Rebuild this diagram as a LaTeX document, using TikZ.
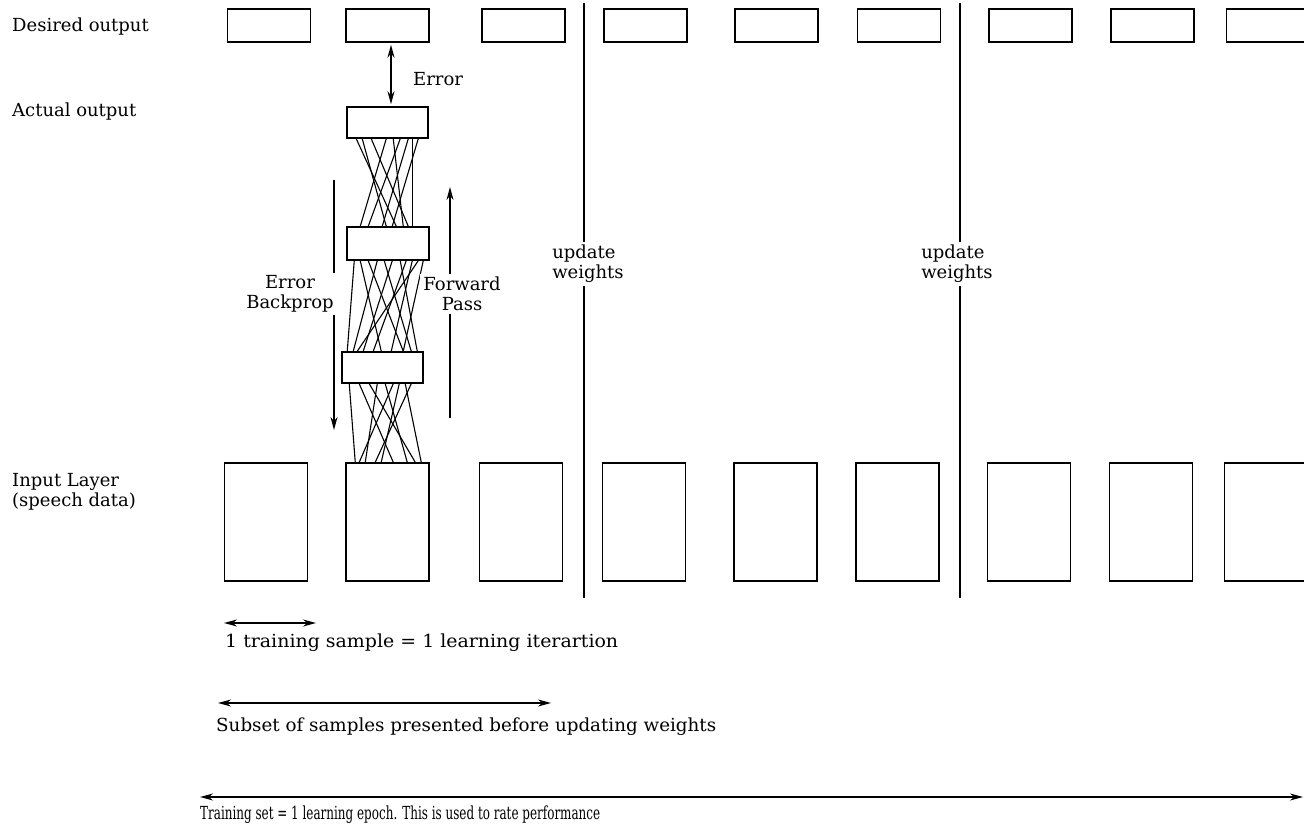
\documentclass[tikz,border=0pt]{standalone}
\usepackage{fontspec}
\usepackage{graphicx}
\setmainfont{DejaVu Serif}
\usetikzlibrary{arrows.meta,calc}
\begin{document}
\begin{tikzpicture}[x=1pt,y=-1pt,
  every node/.style={font=\fontsize{18}{20}\selectfont},
  box/.style={draw, line width=1.5pt, minimum width=83pt, minimum height=33pt, inner sep=0pt},
  inbox/.style={draw, line width=1.5pt, minimum width=83pt, minimum height=118pt, inner sep=0pt},
  lbl/.style={anchor=west, inner sep=0pt, align=left},
  wire/.style={line width=1.1pt},
  sepline/.style={line width=1.6pt},
  arr/.style={line width=1.4pt, -{Stealth[length=13pt,width=7pt]}},
  darr/.style={line width=1.4pt, {Stealth[length=13pt,width=7pt]}-{Stealth[length=13pt,width=7pt]}},
  gap/.style={fill=white, inner sep=3pt, align=center},
]
\useasboundingbox (0,0) rectangle (1304,829);

% desired output boxes
\foreach \n/\x in {1/269,2/387.5,3/523.5,4/645.5,5/776.5,6/899,7/1030.5,8/1152.5,9/1268}
  \node[box] (d\n) at (\x,25.5) {};
% input boxes
\foreach \n/\x in {1/266,2/387.5,3/521,4/644,5/775.5,6/897.5,7/1029,8/1151,9/1266}
  \node[inbox] (i\n) at (\x,522) {};

% network
\node[box, minimum width=81pt, minimum height=31pt] (act) at (387.5,122.5) {};
\node[box, minimum width=82pt, minimum height=33pt] (h2) at (388,243.5) {};
\node[box, minimum width=81pt, minimum height=31pt] (h1) at (382.5,367.5) {};

\foreach \a/\b in {10/50,16/40,25/62,40/14,47/57,54/22,62/36,66/66,72/46}
  \draw[wire] ([xshift=\a pt]act.south west) -- ([xshift=\b pt]h2.north west);
\foreach \a/\b in {8/6,14/40,22/62,31/12,38/70,46/22,54/76,60/32,66/50,72/16,77/62}
  \draw[wire] ([xshift=\a pt]h2.south west) -- ([xshift=\b pt]h1.north west);
\foreach \a/\b in {8/10,18/48,28/70,36/20,44/62,52/14,58/36,64/76,70/30}
  \draw[wire] ([xshift=\a pt]h1.south west) -- ([xshift=\b pt]i2.north west);

% error arrow
\draw[darr] ([xshift=3.5pt,yshift=-2pt]d2.south) -- ([xshift=3.5pt,yshift=2pt]act.north);
\node[lbl] (errl) at (413,79) {Error};

% backprop / forward arrows
\coordinate (bp1) at (334,180);
\coordinate (bp2) at (334,430);
\draw[arr] (bp1) -- (bp2);
\coordinate (fp1) at (450,418);
\coordinate (fp2) at (450,187);
\draw[arr] (fp1) -- (fp2);
\node[gap] (ebp) at (290,294) {Error\\Backprop};
\node[gap] (fwd) at (462,294) {Forward\\Pass};

% separators
\coordinate (s1t) at (584,3);
\coordinate (s1b) at (584,598);
\draw[sepline] (s1t) -- (s1b);
\node[gap, align=left] (uw1) at (588,264) {update\\weights};
\coordinate (s2t) at (960,3);
\coordinate (s2b) at (960,598);
\draw[sepline] (s2t) -- (s2b);
\node[gap, align=left] (uw2) at (957,264) {update\\weights};

% left labels
\node[lbl] (ldes) at (12,27) {Desired output};
\node[lbl] (lact) at (12,112) {Actual output};
\node[lbl] (linp) at (12,492) {Input Layer\\(speech data)};

% bottom scales
\coordinate (a1l) at (224,623);
\coordinate (a1r) at (316,623);
\draw[darr] (a1l) -- (a1r);
\node[lbl] (t1) at (225,643) {\resizebox{393pt}{\height}{1 training sample = 1 learning iterartion}};
\coordinate (a2l) at (218,703);
\coordinate (a2r) at (551,703);
\draw[darr] (a2l) -- (a2r);
\node[lbl] (t2) at (216,727) {\resizebox{500pt}{\height}{Subset of samples presented before updating weights}};
\coordinate (a3l) at (200,797);
\coordinate (a3r) at (1303,797);
\draw[darr] (a3l) -- (a3r);
\node[lbl] (t3) at (200,815) {\resizebox{400pt}{\height}{Training set = 1 learning epoch. This is used to rate performance}};
\end{tikzpicture}
\end{document}
